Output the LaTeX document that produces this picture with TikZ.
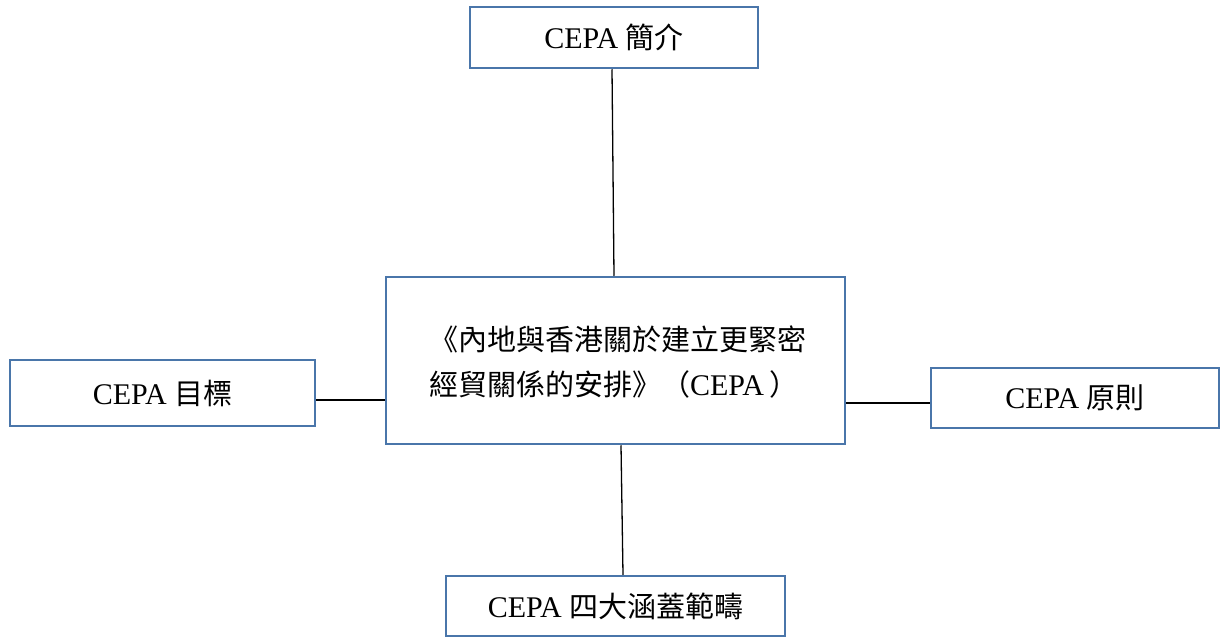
\documentclass[tikz,border=0pt]{standalone}
\usepackage{fontspec}
\setmainfont{Liberation Serif}
\newfontfamily\cjk{Noto Sans CJK TC}
\newcommand\zhtxt[1]{{\cjk\fontsize{29}{45}\selectfont #1}}
\definecolor{boxblue}{RGB}{74,118,170}
\begin{document}
\begin{tikzpicture}[x=1pt,y=-1pt,
  box/.style={draw=boxblue,line width=2.5pt,fill=white,inner sep=0pt,
    font=\fontsize{30}{45}\selectfont},
  link/.style={draw=black,line width=1.3pt}]
\fill[white] (0,0) rectangle (1220,637);
\useasboundingbox (0,0) rectangle (1220,637);
\node[box,minimum width=288pt,minimum height=61pt] (top) at (614,37.5) {CEPA \zhtxt{簡介}};
\node[box,minimum width=459pt,minimum height=167pt,align=left,text depth=0pt] (center) at (615.5,360.5)
  {\hspace{4pt}\zhtxt{《內地與香港關於建立更緊密}\\\hspace{4pt}\zhtxt{經貿關係的安排》（}CEPA\hspace{6pt}\zhtxt{）}};
\node[box,minimum width=305pt,minimum height=66pt] (left) at (162.5,393) {CEPA \zhtxt{目標}};
\node[box,minimum width=288pt,minimum height=60pt] (right) at (1075,398) {CEPA \zhtxt{原則}};
\node[box,minimum width=339pt,minimum height=60pt] (bottom) at (615.5,606) {CEPA \zhtxt{四大涵蓋範疇}};
\draw[link] ([xshift=-2pt]top.south) -- ([xshift=-1.5pt]center.north);
\draw[link] ([xshift=5.5pt]center.south) -- ([xshift=7.5pt]bottom.north);
\draw[link] ([yshift=-7pt]left.east) -- ([yshift=-39.5pt]center.west);
\draw[link] ([yshift=-42.5pt]center.east) -- ([yshift=-5pt]right.west);
\end{tikzpicture}
\end{document}
